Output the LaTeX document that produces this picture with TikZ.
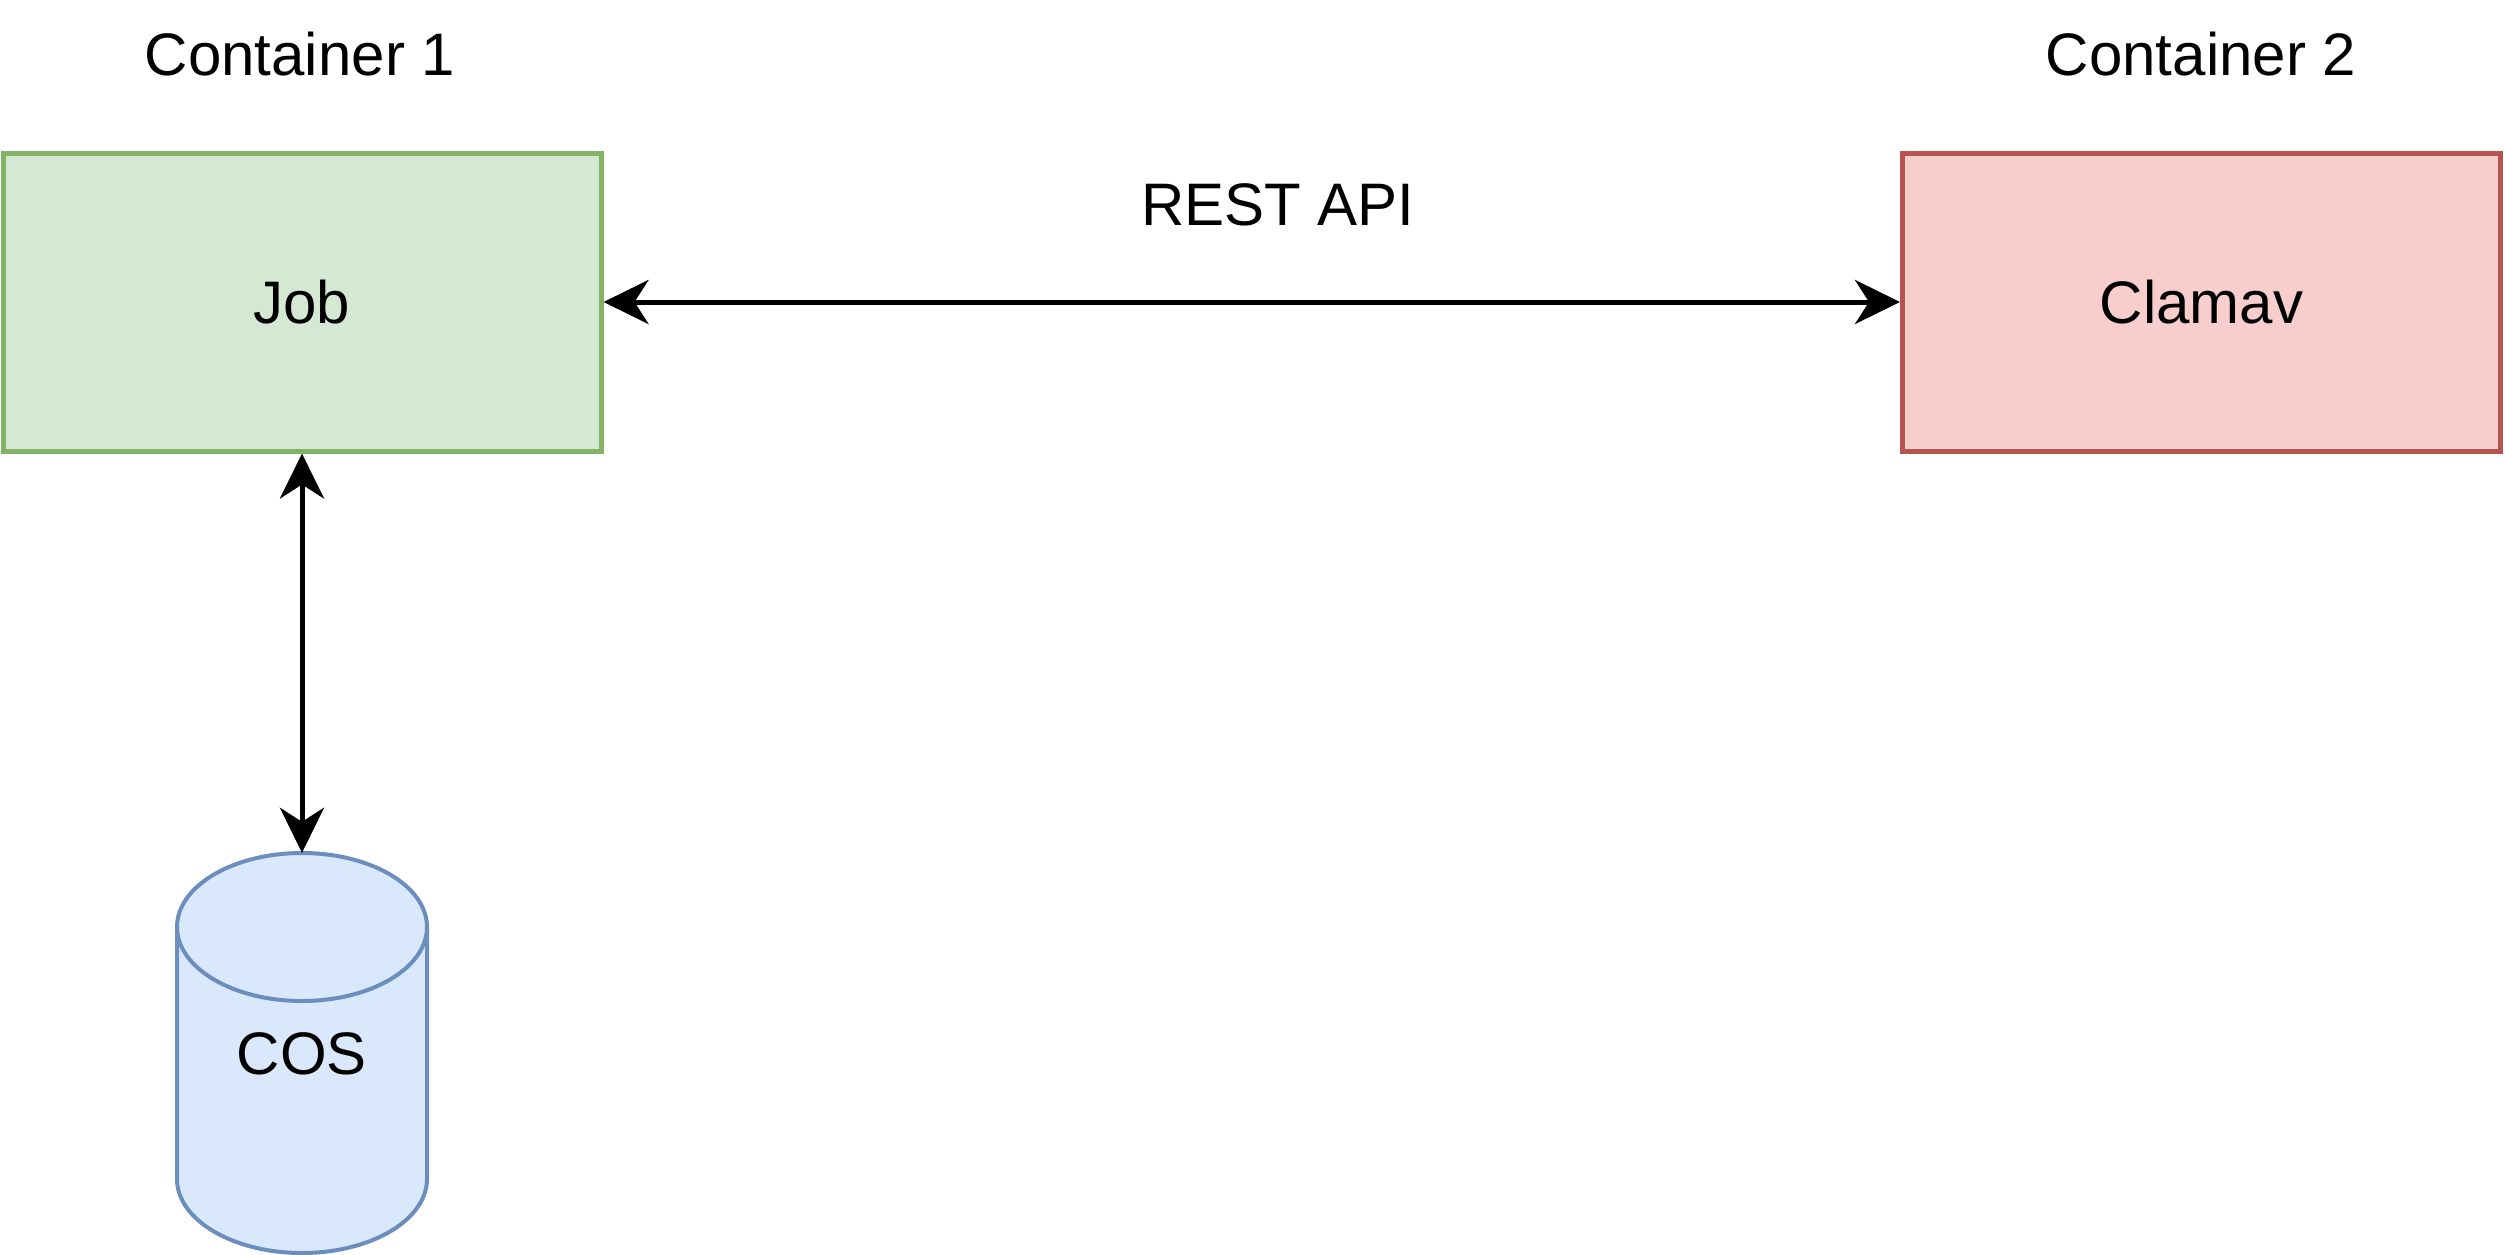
\documentclass[tikz,border=0pt]{standalone}
\usepackage{fontspec}
\setmainfont{Liberation Sans}
\usetikzlibrary{arrows.meta}
\definecolor{jobfill}{HTML}{D5E8D4}
\definecolor{jobline}{HTML}{82B366}
\definecolor{clamfill}{HTML}{F8CECC}
\definecolor{clamline}{HTML}{B85450}
\definecolor{cosfill}{HTML}{DAE8FC}
\definecolor{cosline}{HTML}{6C8EBF}
\tikzset{
  lbl/.style={font=\fontsize{60}{72}\selectfont, inner sep=0pt},
  boxnode/.style={rectangle, line width=5pt, minimum width=598pt, minimum height=298pt, font=\fontsize{60}{72}\selectfont, inner sep=0pt},
  conn/.style={line width=5pt, {Stealth[length=45pt,width=44pt,inset=14pt]}-{Stealth[length=45pt,width=44pt,inset=14pt]}},
}
\begin{document}
\begin{tikzpicture}[x=1pt,y=-1pt]
\useasboundingbox (0,0) rectangle (2505,1255);
\node[lbl] (c1) at (300,54) {Container 1};
\node[lbl] (c2) at (2201,54) {Container 2};
\node[boxnode, draw=jobline, fill=jobfill] (job) at (302,302) {Job};
\node[boxnode, draw=clamline, fill=clamfill] (clam) at (2201.5,302) {Clamav};
\node[lbl] (rest) at (1278,205) {REST API};
% cylinder
\node[minimum width=250pt, minimum height=400pt, inner sep=0pt] (cosbox) at (302,1053) {};
\filldraw[line width=4pt, draw=cosline, fill=cosfill]
  (177,927) -- (177,1179) arc[start angle=180, end angle=360, x radius=125, y radius=-74]
  -- (427,927) arc[start angle=0, end angle=180, x radius=125, y radius=-74] -- cycle;
\draw[line width=4pt, draw=cosline] (177,927) arc[start angle=180, end angle=360, x radius=125, y radius=-74];
\node[lbl] (cos) at (302,1054) {COS};
\draw[conn] (job.east) -- (clam.west);
\draw[conn] (job.south) -- (cosbox.north);
\end{tikzpicture}
\end{document}
